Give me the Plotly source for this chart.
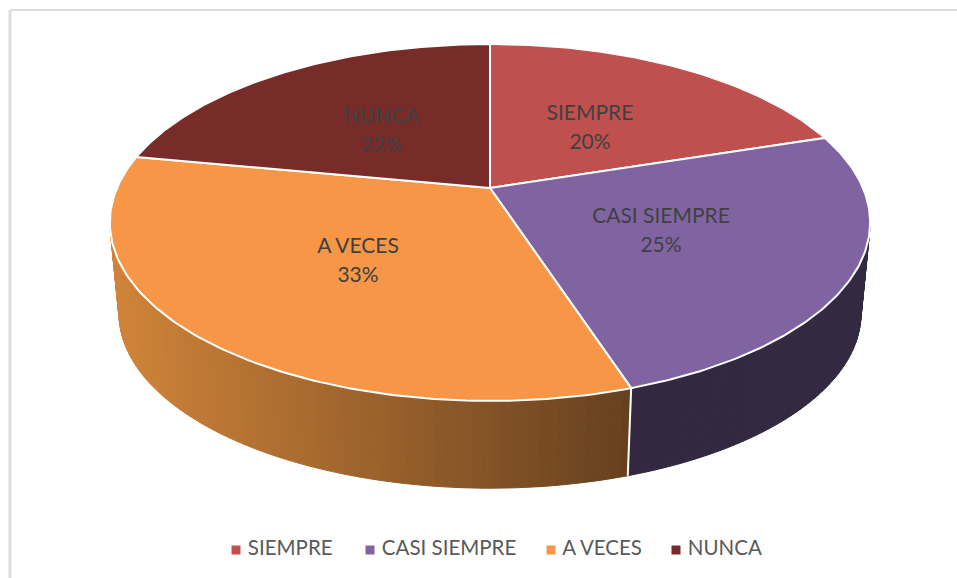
import numpy as np
import plotly.graph_objects as go

# chart values
categories = ["SIEMPRE", "CASI SIEMPRE", "A VECES", "NUNCA"]
percentages = [20, 25, 33, 22]
slice_colors = ["#C0504D", "#8064A2", "#F79646", "#772C2A"]

# side wall shading, left to right across the picture
wall_colors = {
    "CASI SIEMPRE": ("#32283F", "#332941"),
    "A VECES": ("#D08439", "#66401F"),
}

label_pos = [(590, 115), (661, 218), (358, 248), (382, 118)]
legend_x = [236, 370, 551, 676]

FONT = "Lato"
WIDTH, HEIGHT = 957, 578


def top_rim(frac):
    """Perspective projection of the top face, frac runs clockwise from 12 o'clock."""
    t = np.pi / 2 - 2 * np.pi * np.asarray(frac, dtype=float)
    d = 1 + 0.193 * np.sin(t)
    return 490 + 373 * np.cos(t) / d, 188 - 171.8 * np.sin(t) / d


def low_rim(frac):
    t = np.pi / 2 - 2 * np.pi * np.asarray(frac, dtype=float)
    d = 1 + 0.193 * np.sin(t)
    return 490 + 364 * np.cos(t) / d, 280 - 168 * np.sin(t) / d


def mix(c1, c2, a):
    a = min(max(a, 0), 1)
    p = [int(c1[i:i + 2], 16) for i in (1, 3, 5)]
    q = [int(c2[i:i + 2], 16) for i in (1, 3, 5)]
    return "rgb(%d,%d,%d)" % tuple(round(u + (v - u) * a) for u, v in zip(p, q))


fig = go.Figure()

edges = np.cumsum([0] + percentages) / sum(percentages)

# side walls, only the part facing the viewer
for i, name in enumerate(categories):
    if name not in wall_colors:
        continue
    start, end = max(edges[i], 0.2806), min(edges[i + 1], 0.7194)
    steps = np.linspace(start, end, int((end - start) * 300) + 2)
    xs = [top_rim(s)[0] for s in steps]
    for a, b in zip(steps[:-1], steps[1:]):
        xt, yt = top_rim([a, b])
        xl, yl = low_rim([a, b])
        pos = (xt.mean() - min(xs)) / (max(xs) - min(xs))
        col = mix(*wall_colors[name], pos)
        fig.add_trace(go.Scatter(
            x=[xt[0], xt[1], xl[1], xl[0], xt[0]],
            y=[yt[0], yt[1], yl[1], yl[0], yt[0]],
            mode="lines", fill="toself", fillcolor=col,
            line=dict(color=col, width=1), hoverinfo="skip", showlegend=False))

# white split between the two visible walls
xt, yt = top_rim(edges[2])
xl, yl = low_rim(edges[2])
fig.add_trace(go.Scatter(x=[xt, xl], y=[yt, yl], mode="lines",
                         line=dict(color="white", width=2),
                         hoverinfo="skip", showlegend=False))

# top face
for i, name in enumerate(categories):
    arc = np.linspace(edges[i], edges[i + 1], 120)
    ax, ay = top_rim(arc)
    fig.add_trace(go.Scatter(
        x=[490, *ax, 490], y=[188, *ay, 188],
        mode="lines", fill="toself", fillcolor=slice_colors[i],
        line=dict(color="white", width=2), name=name, showlegend=False,
        hovertemplate=f"{name}: {percentages[i]}%<extra></extra>"))

# slice labels
for (lx, ly), name, pct in zip(label_pos, categories, percentages):
    fig.add_trace(go.Scatter(
        x=[lx, lx], y=[ly, ly + 29], mode="text", text=[name, f"{pct}%"],
        textposition="middle center", hoverinfo="skip", showlegend=False,
        textfont=dict(family=FONT, size=21, color="#404040")))

# legend row
for lx, name, col in zip(legend_x, categories, slice_colors):
    fig.add_trace(go.Scatter(
        x=[lx], y=[550], mode="markers+text", text=[" " + name],
        textposition="middle right", hoverinfo="skip", showlegend=False,
        marker=dict(symbol="square", size=9, color=col),
        textfont=dict(family=FONT, size=20.5, color="#595959")))

fig.update_layout(
    width=WIDTH, height=HEIGHT,
    margin=dict(l=0, r=0, t=0, b=0),
    paper_bgcolor="white", plot_bgcolor="white",
    showlegend=False,
    xaxis=dict(range=[0, WIDTH], visible=False, fixedrange=True),
    yaxis=dict(range=[HEIGHT, 0], visible=False, fixedrange=True),
    # chart frame, only top and left show in the crop
    shapes=[
        dict(type="line", x0=10, y0=10, x1=WIDTH, y1=10, line=dict(color="#DDDDDD", width=2)),
        dict(type="line", x0=10, y0=10, x1=10, y1=HEIGHT, line=dict(color="#DDDDDD", width=3)),
    ],
)

# browser default body margin would push the figure 8px in
fig.write_html("out.html", config={"displayModeBar": False},
               post_script="document.body.style.margin='0';document.body.style.overflow='hidden';")
